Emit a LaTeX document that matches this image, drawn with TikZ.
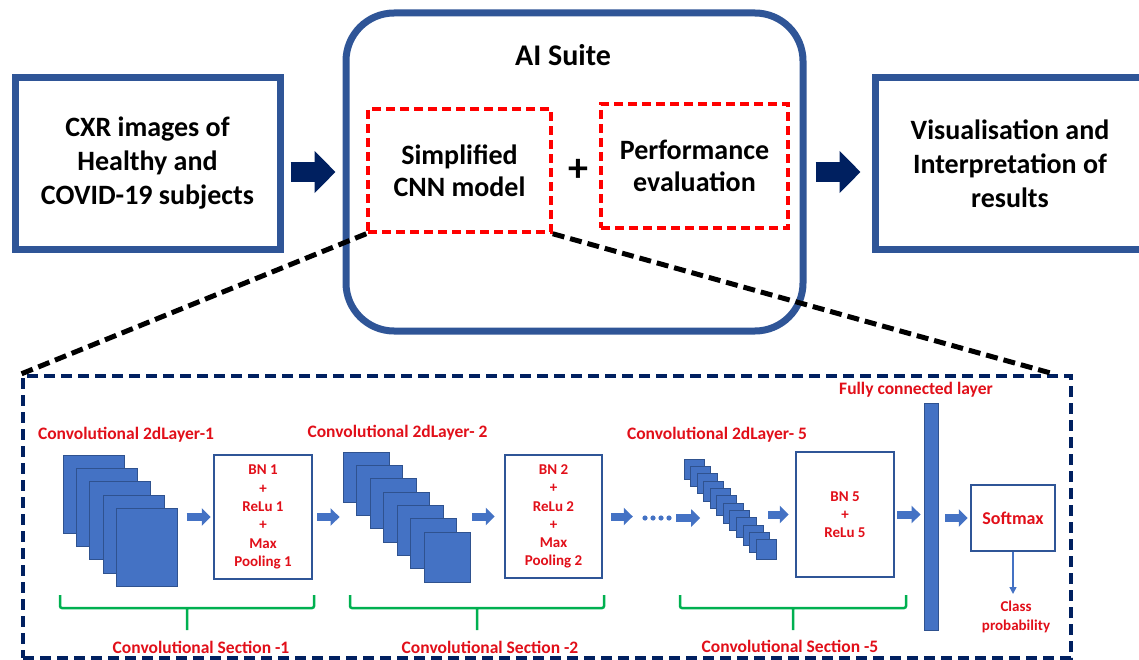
\documentclass[tikz,border=0pt]{standalone}
\usepackage{fontspec}
\setmainfont{Carlito}
\usetikzlibrary{arrows.meta,positioning}

\definecolor{boxblue}{RGB}{47,85,151}
\definecolor{navy}{RGB}{0,32,96}
\definecolor{mapblue}{RGB}{68,114,196}
\definecolor{mapedge}{RGB}{47,82,143}
\definecolor{txtred}{RGB}{225,15,25}
\definecolor{brgreen}{RGB}{0,176,80}

\tikzset{
  bigbox/.style={draw=boxblue, line width=7pt, minimum width=265pt, minimum height=171pt,
    align=center, font=\fontsize{28}{34}\selectfont\bfseries},
  redbox/.style={draw=red, line width=3.5pt, dash pattern=on 9pt off 5pt,
    align=center, font=\fontsize{28}{32}\selectfont\bfseries},
  bigarrow/.style={draw=navy, line width=20pt, -{Triangle[length=21pt,width=41pt]}},
  mapbox/.style={draw=mapedge, fill=mapblue, line width=0.8pt, inner sep=0pt},
  bnbox/.style={draw=boxblue, line width=2.5pt, text=txtred, align=center,
    font=\fontsize{15}{18.3}\selectfont\bfseries},
  smallarrow/.style={draw=mapblue, line width=8pt, -{Triangle[length=9pt,width=17pt]}},
  redlabel/.style={text=txtred, font=\fontsize{17.5}{19}\selectfont\bfseries, inner sep=0pt},
  brace/.style={draw=brgreen, line width=2.5pt, rounded corners=2pt},
  zoomline/.style={draw=black, line width=5pt, dash pattern=on 12pt off 6pt},
}

\begin{document}
\begin{tikzpicture}[x=1pt,y=-1pt]
    \clip (0,0) rectangle (1139,660);

    % Pipeline
    \node[bigbox] (cxr) at (147.5,163.5) {CXR images of\\Healthy and\\COVID-19 subjects};
    \node[draw=boxblue, line width=7pt, rounded corners=48pt, minimum width=457pt,
      minimum height=318pt] (suite) at (574.5,172) {};
    \node[font=\fontsize{30}{34}\selectfont\bfseries] (suitetitle) at (563,55) {AI Suite};
    \node[redbox, minimum width=183pt, minimum height=123pt] (cnn) at (459.5,170.5) {Simplified\\CNN model};
    \node[font=\fontsize{40}{40}\selectfont\bfseries] (plus) at (578,170) {+};
    \node[redbox, minimum width=187pt, minimum height=124pt] (perf) at (694.5,166) {Performance\\evaluation};
    \node[bigbox, minimum width=270pt] (viz) at (1010,163.5) {Visualisation and\\Interpretation of\\results};

    \draw[bigarrow, shorten <=7pt, shorten >=7pt] (cxr.east |- suite.west) -- (suite.west);
    \draw[bigarrow, shorten <=9pt, shorten >=11pt] (suite.east) -- (viz.west |- suite.east);

    % Zoom on the CNN model
    \node[draw=navy, line width=4pt, dash pattern=on 11pt off 6pt, minimum width=1048pt,
      minimum height=282pt] (detail) at (547,517) {};
    \draw[zoomline] (cnn.south west) -- (detail.north west);
    \draw[zoomline] (cnn.south east) -- ([xshift=-19pt]detail.north east);

    % Section 1
    \node[redlabel] (lab1) at (126,435) {Convolutional 2dLayer-1};
    \foreach \i in {0,...,4}
        \node[mapbox, minimum width=61pt, minimum height=78pt] (ma\i) at (93.5+13.3*\i,494+13.3*\i) {};
    \node[bnbox, minimum width=98pt, minimum height=124pt] (bn1) at (263,517) {BN 1\\+\\ReLu 1\\+\\Max\\Pooling 1};
    \draw[smallarrow, shorten <=9pt, shorten >=2pt] (ma4.east |- bn1.west) -- (bn1.west);

    % Section 2
    \node[redlabel] (lab2) at (397.5,433) {Convolutional 2dLayer- 2};
    \foreach \i in {0,...,6}
        \node[mapbox, minimum width=46pt, minimum height=50pt] (mb\i) at (366+13.5*\i,477+13.33*\i) {};
    \draw[smallarrow, shorten <=4pt, shorten >=3pt] (bn1.east) -- (mb0.west |- bn1.east);
    \node[bnbox, minimum width=97pt, minimum height=123pt] (bn2) at (553.5,516.5) {BN 2\\+\\ReLu 2\\+\\Max\\Pooling 2};
    \draw[smallarrow, shorten <=2pt, shorten >=9pt] (mb6.east |- bn2.west) -- (bn2.west);

    % Dots
    \node[inner sep=0pt, minimum width=30pt, minimum height=6pt] (dots) at (656,518) {};
    \foreach \x in {0,1,2,3}
        \fill[mapblue] (645+8*\x,518) circle (2.6pt);
    \draw[smallarrow, shorten <=8pt, shorten >=8pt] (bn2.east) -- (dots.west |- bn2.east);
    \draw[smallarrow] ([xshift=5pt]dots.east) -- ([xshift=29pt]dots.east);

    % Section 5
    \node[redlabel] (lab5) at (717,435) {Convolutional 2dLayer- 5};
    \foreach \i in {0,...,11}
        \node[mapbox, minimum width=20pt, minimum height=20pt] (mc\i) at (694+6.55*\i,469+7.35*\i) {};
    \node[bnbox, minimum width=98pt, minimum height=125pt] (bn5) at (845,514.5) {BN 5\\+\\ReLu 5};
    \draw[smallarrow, shorten <=2pt, shorten >=6pt] (mc11.north |- bn5.west) -- (bn5.west);

    % Fully connected + softmax
    \node[mapbox, minimum width=14pt, minimum height=227pt] (fc) at (931,516.5) {};
    \node[redlabel] (fclab) at (916,390) {Fully connected layer};
    \draw[smallarrow, shorten <=2pt, shorten >=3pt] (bn5.east) -- (fc.west |- bn5.east);
    \node[bnbox, minimum width=84pt, minimum height=66pt, font=\fontsize{18}{20}\selectfont\bfseries] (soft) at (1013,518) {Softmax};
    \draw[smallarrow, shorten <=7pt, shorten >=2pt] (fc.east |- soft.west) -- (soft.west);
    \coordinate (probtip) at (1013,594);
    \draw[draw=mapblue, line width=1.5pt, -{Triangle[length=7pt,width=7pt]}] (soft.south) -- (probtip);
    \node[redlabel, align=center, font=\fontsize{15}{19}\selectfont\bfseries] (prob) at (1016,617) {Class\\probability};

    % Braces and section names
    \foreach \l/\r/\m in {60/314/187, 350/604/477, 680/906/793}
        \draw[brace] (\l,595) -- (\l,608) -- (\r,608) -- (\r,595) (\m,608) -- (\m,630);
    \node[redlabel] (sec1) at (201,647) {Convolutional Section -1};
    \node[redlabel] (sec2) at (490,647) {Convolutional Section -2};
    \node[redlabel] (sec5) at (790,646) {Convolutional Section -5};
\end{tikzpicture}
\end{document}
